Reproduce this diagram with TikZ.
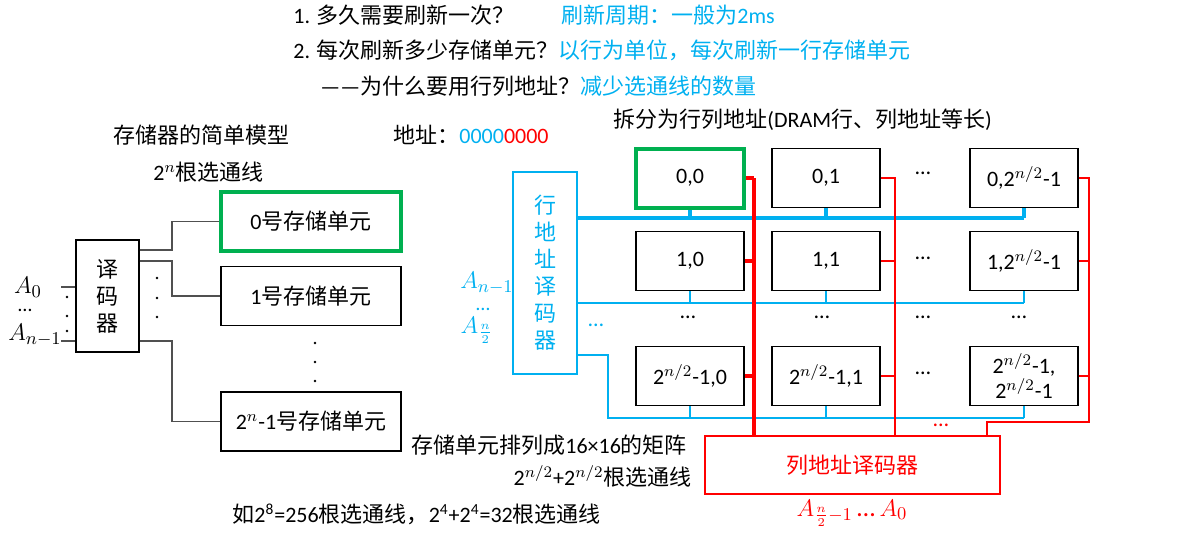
\documentclass[tikz,border=0pt]{standalone}
\usepackage{fontspec}
\setmainfont{Carlito}
\newfontfamily\cjk{Noto Sans CJK SC}
\definecolor{rowblue}{RGB}{0,176,240}
\definecolor{selgreen}{RGB}{0,176,80}
\definecolor{colred}{RGB}{255,0,0}
\definecolor{wiregray}{RGB}{80,80,80}

\begin{document}
\begin{tikzpicture}[x=0.5pt,y=-0.5pt,
    every node/.style={font=\fontsize{11}{13}\selectfont},
    txt/.style={anchor=west,inner sep=0pt},
    unitbox/.style={draw,line width=0.7pt,minimum width=90pt,minimum height=29.5pt,inner sep=0pt},
    cell/.style={draw,line width=0.7pt,minimum width=54pt,minimum height=29.5pt,inner sep=0pt,align=center},
    decbox/.style={draw,line width=0.7pt,inner sep=0pt,align=center,font=\cjk\fontsize{11}{13.5}\selectfont},
    wire/.style={wiregray,semithick},
    bluewire/.style={rowblue,semithick},
    redwire/.style={colred,semithick},
    addr/.style={inner sep=0pt,font=\fontsize{13}{15}\selectfont},
    gap/.style={inner sep=0pt,text height=1.5pt,text depth=0pt,font=\fontsize{10}{12}\selectfont}]
  \useasboundingbox (0,0) rectangle (1180,536);

  \node[txt] (q1) at (293,15) {1. {\cjk 多久需要刷新一次？}};
  \node[txt,text=rowblue] (a1) at (561,15) {{\cjk 刷新周期：一般为}2ms};
  \node[txt] (q2) at (293,50) {2. {\cjk 每次刷新多少存储单元？\color{rowblue}以行为单位，每次刷新一行存储单元}};
  \node[txt] (q3) at (320,86) {——{\cjk 为什么要用行列地址？\color{rowblue}减少选通线的数量}};

  \node[txt] (model) at (113,135) {\cjk 存储器的简单模型};
  \node[txt] (addrbits) at (393,135) {{\cjk 地址：}\textcolor{rowblue}{0000}\textcolor{colred}{0000}};
  \node[txt] (nlines) at (153,172) {2$^n${\cjk 根选通线}};
  \node[txt] (split) at (613,120) {{\cjk 拆分为行列地址}(DRAM{\cjk 行、列地址等长})};

  % simple model
  \node[decbox,minimum width=31.5pt,minimum height=56pt] (dec) at (107.5,296) {译\\码\\器};
  \node[unitbox,draw=selgreen,line width=2pt] (m0) at (311,221.5) {0{\cjk 号存储单元}};
  \node[unitbox] (m1) at (311,296) {1{\cjk 号存储单元}};
  \node[unitbox] (m2) at (311,421.5) {2$^n$-1{\cjk 号存储单元}};
  \coordinate (in0) at (61,287);
  \coordinate (in1) at (61,341);
  \draw[wire] (in0) -- (dec.west |- in0);
  \draw[wire] (in1) -- (dec.west |- in1);
  \node[addr] (a0) at (28,287) {$A_0$};
  \node[gap] (adots) at (25,310) {…};
  \node[addr] (an) at (35,335) {$A_{n-1}$};
  \draw[wire] (dec.east |- 0,250) -- (172,250) |- (m0);
  \draw[wire] (dec.east |- 0,261) -- (172,261) |- (m1);
  \draw[wire] (dec.east |- 0,341) -- (172,341) |- (m2);
  \foreach \y in {297,316,331} \fill (67,\y) circle (0.7pt);
  \foreach \y in {278,298,317} \fill (157,\y) circle (0.7pt);
  \foreach \y in {343,362,381} \fill (315,\y) circle (0.7pt);

  % row / column split
  \node[decbox,draw=rowblue,text=rowblue,minimum width=32pt,minimum height=101pt] (rdec) at (545,273) {行\\地\\址\\译\\码\\器};
  \node[draw=colred,text=colred,line width=0.7pt,minimum width=147.5pt,minimum height=29pt] (cdec) at (852.5,465) {\cjk 列地址译码器};
  \node[addr,text=rowblue] (ra1) at (487,283) {$A_{n-1}$};
  \node[gap,text=rowblue] (radots) at (483,309) {…};
  \node[addr,text=rowblue] (ra0) at (477,330) {$A_{\frac{n}{2}}$};
  \node[addr,text=colred] (ca) at (852,513) {$A_{\frac{n}{2}-1}$\,…\,$A_0$};

  \node[cell,draw=selgreen,line width=2pt] (c00) at (690,178) {0,0};
  \node[cell] (c01) at (826,178) {0,1};
  \node[cell] (c0k) at (1024,178) {0,2$^{n/2}$-1};
  \node[cell] (c10) at (690,261) {1,0};
  \node[cell] (c11) at (826,261) {1,1};
  \node[cell] (c1k) at (1024,261) {1,2$^{n/2}$-1};
  \node[cell] (cL0) at (690,376) {2$^{n/2}$-1,0};
  \node[cell] (cL1) at (826,376) {2$^{n/2}$-1,1};
  \node[cell,font=\fontsize{11}{12.5}\selectfont] (cLk) at (1024,376) {2$^{n/2}$-1,\\2$^{n/2}$-1};
  \foreach \x/\y in {923/173,923/258,923/373,688/317,822/317,923/317,1019/317} \node at (\x,\y) {…};
  \node[text=rowblue] at (596,325) {…};
  \node[text=colred] at (941,425) {…};

  \draw[rowblue,line width=2pt] (rdec.east |- 0,218) -- (c0k.south |- 0,218);
  \foreach \c in {c00,c01,c0k} \draw[rowblue,line width=2pt] (\c.south) -- (\c.south |- 0,218);
  \draw[bluewire] (rdec.east |- 0,303) -- (c1k.south |- 0,303);
  \foreach \c in {c10,c11,c1k} \draw[bluewire] (\c.south) -- (\c.south |- 0,303);
  \draw[bluewire] (rdec.east |- 0,355) -| (608,418) -- (cLk.south |- 0,418);
  \foreach \c in {cL0,cL1,cLk} \draw[bluewire] (\c.south) -- (\c.south |- 0,418);

  \draw[colred,line width=2pt] (754,0 |- c00.east) -- (754,0 |- cdec.north);
  \foreach \c in {c00,c10,cL0} \draw[colred,line width=2pt] (\c.east) -- (754,0 |- \c.east);
  \draw[redwire] (c01.east) -| (895,0 |- cdec.north);
  \foreach \c in {c11,cL1} \draw[redwire] (\c.east) -- (895,0 |- \c.east);
  \draw[redwire] (c0k.east) -| (1089,422) -| (987,0 |- cdec.north);
  \foreach \c in {c1k,cLk} \draw[redwire] (\c.east) -- (1089,0 |- \c.east);

  \node[txt] (matrix) at (411,445) {{\cjk 存储单元排列成}16×16{\cjk 的矩阵}};
  \node[anchor=east,inner sep=0pt] (rc) at (692,476) {2$^{n/2}$+2$^{n/2}${\cjk 根选通线}};
  \node[txt] (eg) at (232,514) {{\cjk 如}2\textsuperscript{8}=256{\cjk 根选通线，}2\textsuperscript{4}+2\textsuperscript{4}=32{\cjk 根选通线}};
\end{tikzpicture}
\end{document}
